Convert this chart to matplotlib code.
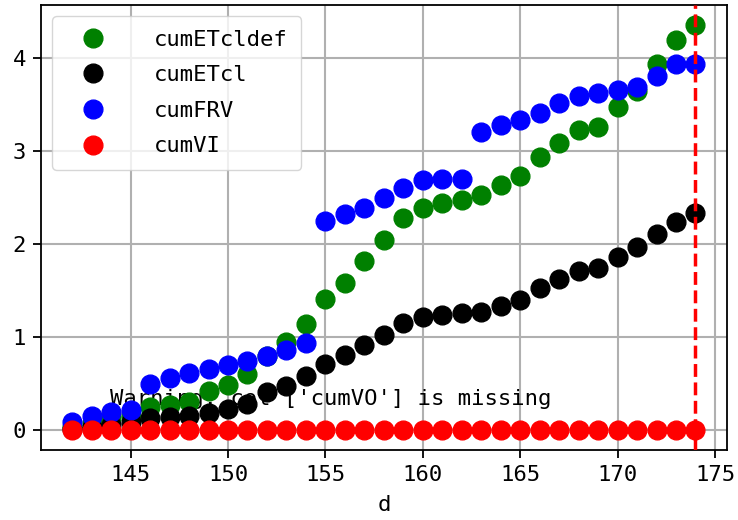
import matplotlib
matplotlib.use("Agg")
import matplotlib.pyplot as plt
import numpy as np

# data
d = np.arange(142, 175)
cumETcldef = [0.03, 0.07, 0.12, 0.16, 0.24, 0.27, 0.30, 0.41, 0.48, 0.60, 0.79,
              0.94, 1.14, 1.41, 1.58, 1.81, 2.04, 2.28, 2.39, 2.44, 2.47, 2.52,
              2.63, 2.73, 2.93, 3.08, 3.22, 3.26, 3.47, 3.64, 3.93, 4.19, 4.35]
cumETcl = [0.01, 0.03, 0.05, 0.08, 0.12, 0.14, 0.15, 0.18, 0.22, 0.28, 0.40,
           0.47, 0.58, 0.71, 0.80, 0.91, 1.02, 1.15, 1.21, 1.23, 1.25, 1.27,
           1.33, 1.40, 1.52, 1.62, 1.71, 1.74, 1.86, 1.96, 2.10, 2.23, 2.33]
cumFRV = [0.08, 0.15, 0.19, 0.21, 0.49, 0.56, 0.61, 0.65, 0.70, 0.74, 0.79,
          0.86, 0.93, 2.24, 2.32, 2.39, 2.49, 2.60, 2.69, 2.70, 2.70, 3.20,
          3.28, 3.33, 3.41, 3.52, 3.59, 3.62, 3.66, 3.69, 3.81, 3.94, 3.94]
cumVI = [0.0] * len(d)
current_day = 174
warning = "Warning: col ['cumVO'] is missing"

#Plot config
plt.rcParams['font.family'] = ['DejaVu Sans Mono']
plt.rcParams['font.size'] = 16

fig = plt.figure(figsize=(7.38, 5.2), dpi=100)
ax = fig.add_axes([0.0556, 0.135, 0.929, 0.855])

series = [(cumETcldef, 'green', 'cumETcldef'),
          (cumETcl, 'black', 'cumETcl'),
          (cumFRV, 'blue', 'cumFRV'),
          (cumVI, 'red', 'cumVI')]
for y, c, name in series:
    ax.plot(d, y, 'o', color=c, markersize=13.5, label=name, zorder=2)

ax.axvline(current_day, color='red', ls='--', lw=2.5, zorder=3)
ax.text(0.1, 0.1, warning, transform=ax.transAxes, zorder=1)

ax.grid(True, color='#b0b0b0', lw=1.5)
ax.set_axisbelow(True)
ax.set_xlabel('d', labelpad=7)
ax.set_xticks([145, 150, 155, 160, 165, 170, 175])
ax.set_yticks([0, 1, 2, 3, 4])
for s in ax.spines.values():
    s.set_linewidth(1.3)
ax.tick_params(width=1.3, length=6, pad=5)

ax.legend(loc='upper left', handlelength=2.5, handletextpad=1.5,
          numpoints=1, labelspacing=0.7, borderpad=0.6)

fig.savefig('out.png', dpi=100)
